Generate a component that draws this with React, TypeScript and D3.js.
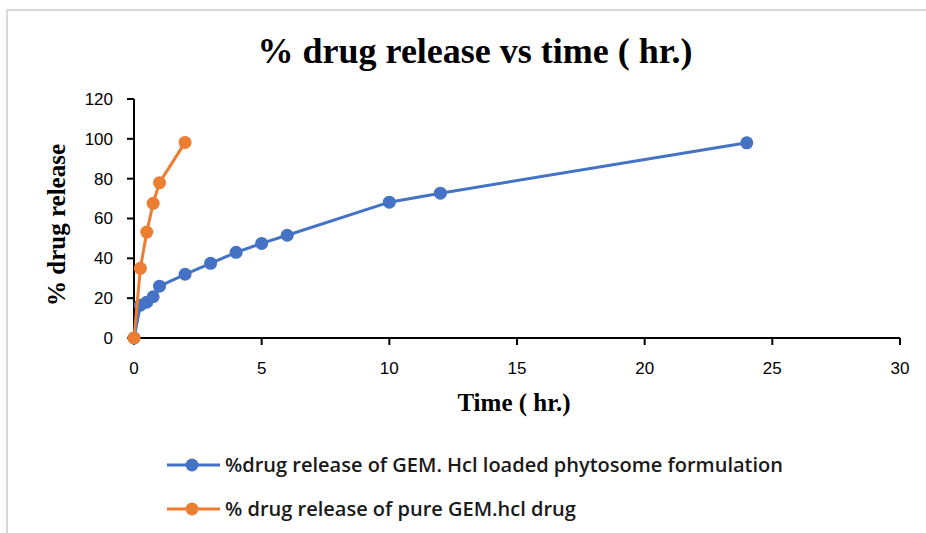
import React from "react";
import * as d3 from "d3";

const phytoTime = [0, 0.25, 0.5, 0.75, 1, 2, 3, 4, 5, 6, 10, 12, 24];
const phytoRelease = [0, 16.5, 18, 20.7, 26, 32, 37.5, 43, 47.5, 51.6, 68.2, 72.7, 98];
const pureTime = [0, 0.25, 0.5, 0.75, 1, 2];
const pureRelease = [0, 35, 53.2, 67.6, 78, 98.2];
const xTicks = [0, 5, 10, 15, 20, 25, 30];
const yTicks = [0, 20, 40, 60, 80, 100, 120];
const seriesNames = [
  "%drug release of GEM. Hcl loaded phytosome formulation",
  "% drug release of pure GEM.hcl drug",
];
const seriesColors = ["#4472C4", "#ED7D31"];

const W = 926;
const H = 533;

export default function App() {
  const x = d3.scaleLinear().domain([0, 30]).range([134, 900]);
  const y = d3.scaleLinear().domain([0, 120]).range([338, 99]);
  const line = d3
    .line<[number, number]>()
    .x((d) => x(d[0]))
    .y((d) => y(d[1]));

  const series = [
    phytoTime.map((t, i) => [t, phytoRelease[i]] as [number, number]),
    pureTime.map((t, i) => [t, pureRelease[i]] as [number, number]),
  ];

  const tickFont = "'Liberation Sans', sans-serif";
  const serif = "'Liberation Serif', serif";

  return (
    <svg
      width={W}
      height={H}
      style={{ position: "absolute", left: 0, top: 0, background: "#fff" }}
    >
      <rect x={7} y={10} width={940} height={540} fill="#fff" stroke="#d9d9d9" strokeWidth={2} />
      <text
        x={475}
        y={63}
        textAnchor="middle"
        fontFamily={serif}
        fontWeight="bold"
        fontSize={36}
        fill="#000"
      >
        % drug release vs time ( hr.)
      </text>

      {/* y axis */}
      <line x1={x(0)} x2={x(0)} y1={y(0)} y2={y(120)} stroke="#000" strokeWidth={2} />
      {yTicks.map((t) => (
        <g key={"y" + t}>
          <line x1={x(0) - 7} x2={x(0)} y1={y(t)} y2={y(t)} stroke="#000" strokeWidth={2} />
          <text
            x={113}
            y={y(t)}
            dy="0.35em"
            textAnchor="end"
            fontFamily={tickFont}
            fontSize={17}
            fill="#000"
          >
            {t}
          </text>
        </g>
      ))}

      {/* x axis */}
      <line x1={x(0)} x2={x(30)} y1={y(0)} y2={y(0)} stroke="#000" strokeWidth={2} />
      {xTicks.map((t) => (
        <g key={"x" + t}>
          <line x1={x(t)} x2={x(t)} y1={y(0)} y2={y(0) + 7} stroke="#000" strokeWidth={2} />
          <text
            x={x(t)}
            y={374}
            textAnchor="middle"
            fontFamily={tickFont}
            fontSize={17}
            fill="#000"
          >
            {t}
          </text>
        </g>
      ))}

      <text
        x={514}
        y={411}
        textAnchor="middle"
        fontFamily={serif}
        fontWeight="bold"
        fontSize={25}
        fill="#000"
      >
        Time ( hr.)
      </text>
      <text
        transform={`translate(65, 225) rotate(-90)`}
        textAnchor="middle"
        fontFamily={serif}
        fontWeight="bold"
        fontSize={25}
        fill="#000"
      >
        % drug release
      </text>

      {series.map((pts, i) => (
        <g key={"s" + i}>
          <path d={line(pts) || ""} fill="none" stroke={seriesColors[i]} strokeWidth={3} />
          {pts.map((p, j) => (
            <circle key={j} cx={x(p[0])} cy={y(p[1])} r={6.5} fill={seriesColors[i]} />
          ))}
        </g>
      ))}

      {/* legend */}
      {seriesNames.map((name, i) => {
        const ly = 465 + i * 44;
        return (
          <g key={"l" + i}>
            <line x1={167} x2={220} y1={ly} y2={ly} stroke={seriesColors[i]} strokeWidth={3} />
            <circle cx={192} cy={ly} r={6.5} fill={seriesColors[i]} />
            <text
              x={225}
              y={ly}
              dy="0.35em"
              fontFamily="'Open Sans', sans-serif"
              fontWeight={600}
              fontSize={20}
              fill="#1a1a1a"
            >
              {name}
            </text>
          </g>
        );
      })}
    </svg>
  );
}
